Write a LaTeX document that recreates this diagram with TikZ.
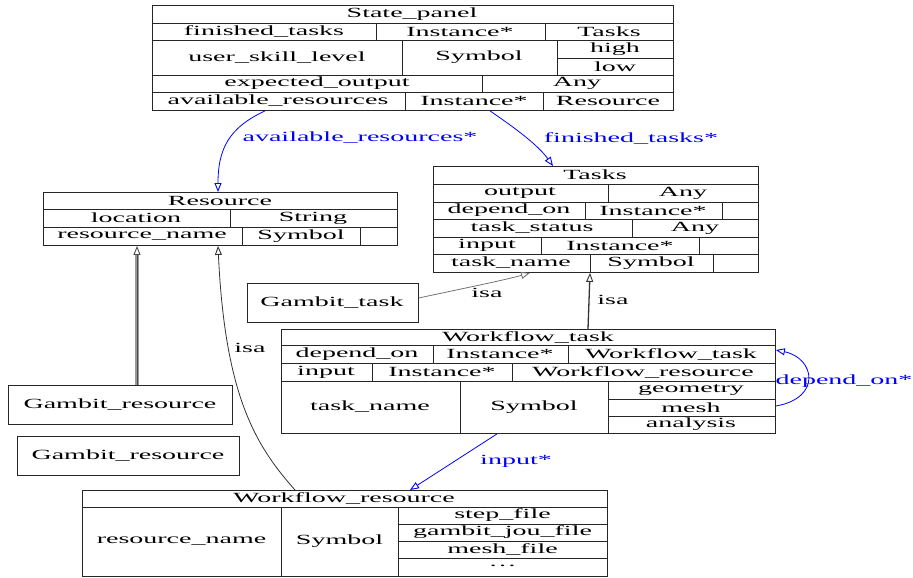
\documentclass[tikz,border=0pt]{standalone}
\usepackage{fontspec}
\setmainfont[FakeStretch=2.0]{Liberation Serif}
\usetikzlibrary{arrows.meta,calc}
\begin{document}
\begin{tikzpicture}[x=1pt,y=-1pt,
  tbl/.style={draw=black!85, line width=0.9pt, inner sep=0pt, anchor=north west},
  ln/.style={draw=black!85, line width=0.9pt},
  txt/.style={inner sep=0pt, font=\fontsize{14}{14}\selectfont},
  lbl/.style={txt, text=blue},
  tip/.style={-{Triangle[open, length=9pt, width=7pt, line width=0.9pt]}},
  blueedge/.style={draw=blue, line width=0.8pt, tip},
  isaedge/.style={draw=black!80, line width=0.8pt, tip},
  greyband/.style={draw=black!40, line width=3.5pt, shorten >=8pt}]
\useasboundingbox (0,0) rectangle (913,578);

% ---------- State_panel ----------
\node[tbl, minimum width=521pt, minimum height=105pt] (sp) at (152,5) {};
\draw[ln] (152,23) -- (673,23) (152,40) -- (673,40) (152,75) -- (673,75) (152,92) -- (673,92);
\draw[ln] (557,58) -- (673,58);
\draw[ln] (376,23) -- (376,40) (545,23) -- (545,40);
\draw[ln] (402,40) -- (402,75) (557,40) -- (557,75);
\draw[ln] (482,75) -- (482,92);
\draw[ln] (405,92) -- (405,110) (543,92) -- (543,110);
\node[txt] at (412,14) {State\_panel};
\node[txt] at (264,31.5) {finished\_tasks};
\node[txt] at (460,31.5) {Instance*};
\node[txt] at (609,31.5) {Tasks};
\node[txt] at (277,57.5) {user\_skill\_level};
\node[txt] at (479,57.5) {Symbol};
\node[txt] at (615,49) {high};
\node[txt] at (615,66.5) {low};
\node[txt] at (317,83.5) {expected\_output};
\node[txt] at (577,83.5) {Any};
\node[txt] at (278,101) {available\_resources};
\node[txt] at (474,101) {Instance*};
\node[txt] at (608,101) {Resource};

% ---------- Resource ----------
\node[tbl, minimum width=354pt, minimum height=53pt] (res) at (43,192) {};
\draw[ln] (43,209) -- (397,209) (43,227) -- (397,227);
\draw[ln] (230,209) -- (230,227);
\draw[ln] (242,227) -- (242,245) (360,227) -- (360,245);
\node[txt] at (220,200.5) {Resource};
\node[txt] at (136,218) {location};
\node[txt] at (313,218) {String};
\node[txt] at (142,236) {resource\_name};
\node[txt] at (301,236) {Symbol};

% ---------- Tasks ----------
\node[tbl, minimum width=325pt, minimum height=106pt] (tk) at (433,166) {};
\draw[ln] (433,184) -- (758,184) (433,202) -- (758,202) (433,219) -- (758,219)
          (433,237) -- (758,237) (433,254) -- (758,254);
\draw[ln] (608,184) -- (608,202);
\draw[ln] (585,202) -- (585,219) (722,202) -- (722,219);
\draw[ln] (632,219) -- (632,237);
\draw[ln] (541,237) -- (541,254) (699,237) -- (699,254);
\draw[ln] (590,254) -- (590,272) (713,254) -- (713,272);
\node[txt] at (595,175) {Tasks};
\node[txt] at (520,193) {output};
\node[txt] at (683,193) {Any};
\node[txt] at (509,210.5) {depend\_on};
\node[txt] at (653,210.5) {Instance*};
\node[txt] at (532,228) {task\_status};
\node[txt] at (695,228) {Any};
\node[txt] at (487,245.5) {input};
\node[txt] at (620,245.5) {Instance*};
\node[txt] at (511,263) {task\_name};
\node[txt] at (651,263) {Symbol};

% ---------- Gambit_task ----------
\node[tbl, minimum width=171pt, minimum height=39pt] (gt) at (247,283) {};
\node[txt] at (332,302.5) {Gambit\_task};

% ---------- Workflow_task ----------
\node[tbl, minimum width=494pt, minimum height=104pt] (wt) at (281,329) {};
\draw[ln] (281,345) -- (775,345) (281,363) -- (775,363) (281,381) -- (775,381);
\draw[ln] (608,399) -- (775,399) (608,416) -- (775,416);
\draw[ln] (433,345) -- (433,363) (568,345) -- (568,363);
\draw[ln] (372,363) -- (372,381) (512,363) -- (512,381);
\draw[ln] (460,381) -- (460,433) (608,381) -- (608,433);
\node[txt] at (528,337) {Workflow\_task};
\node[txt] at (357,354) {depend\_on};
\node[txt] at (500,354) {Instance*};
\node[txt] at (671,354) {Workflow\_task};
\node[txt] at (326,372) {input};
\node[txt] at (442,372) {Instance*};
\node[txt] at (643,372) {Workflow\_resource};
\node[txt] at (370,407) {task\_name};
\node[txt] at (534,407) {Symbol};
\node[txt] at (691,390) {geometry};
\node[txt] at (691,407.5) {mesh};
\node[txt] at (691,424.5) {analysis};

% ---------- Gambit_resource boxes ----------
\node[tbl, minimum width=224pt, minimum height=39pt] (gr1) at (8,385) {};
\node[txt] at (120,404.5) {Gambit\_resource};
\node[tbl, minimum width=222pt, minimum height=39pt] (gr2) at (17,436) {};
\node[txt] at (128,455.5) {Gambit\_resource};

% ---------- Workflow_resource ----------
\node[tbl, minimum width=525pt, minimum height=86pt] (wr) at (82,490) {};
\draw[ln] (82,507) -- (607,507);
\draw[ln] (398,524) -- (607,524) (398,541) -- (607,541) (398,558) -- (607,558);
\draw[ln] (281,507) -- (281,576) (398,507) -- (398,576);
\node[txt] at (344,498.5) {Workflow\_resource};
\node[txt] at (181.5,541.5) {resource\_name};
\node[txt] at (339.5,541.5) {Symbol};
\node[txt] at (502.5,515.5) {step\_file};
\node[txt] at (502.5,532.5) {gambit\_jou\_file};
\node[txt] at (502.5,549.5) {mesh\_file};
\node[txt] at (502.5,566) {\dots};

% ---------- connectors ----------
\draw[blueedge] ($(sp.south west)+(113,0)$) .. controls (228,128) and (218,150) .. ($(res.north west)+(175,0)$);
\node[lbl] at (360,138) {available\_resources*};
\draw[blueedge] ($(sp.south west)+(338,0)$) .. controls (515,128) and (538,145) .. ($(tk.north west)+(120,0)$);
\node[lbl] at (631,138) {finished\_tasks*};

\draw[isaedge, draw=black!55] (gt.east) ++(0,-5) .. controls (470,287) and (505,280) .. ($(tk.south west)+(97,0)$);
\node[txt] at (487,293) {isa};
\draw[isaedge, line width=1.3pt] ($(wt.north west)+(307,0)$) -- ($(tk.south west)+(157,0)$);
\node[txt] at (613,300) {isa};

\draw[blueedge] ($(wt.north east)+(0,77)$) .. controls (822,398) and (815,358) .. ($(wt.north east)+(0,21)$);
\node[lbl] at (844,381) {depend\_on*};

\draw[blueedge] ($(wt.south west)+(216,0)$) -- ($(wr.north west)+(328,0)$);
\node[lbl] at (516,461) {input*};

\draw[greyband] ($(gr1.north west)+(129,0)$) -- ($(res.south west)+(94,0)$);
\draw[isaedge, draw=black!70, line width=0.9pt] ($(gr1.north west)+(129,0)$) -- ($(res.south west)+(94,0)$);
\draw[isaedge] ($(wr.north west)+(213,0)$) .. controls (255,445) and (225,395) .. ($(res.south west)+(175,0)$);
\node[txt] at (250,348) {isa};
\end{tikzpicture}
\end{document}
